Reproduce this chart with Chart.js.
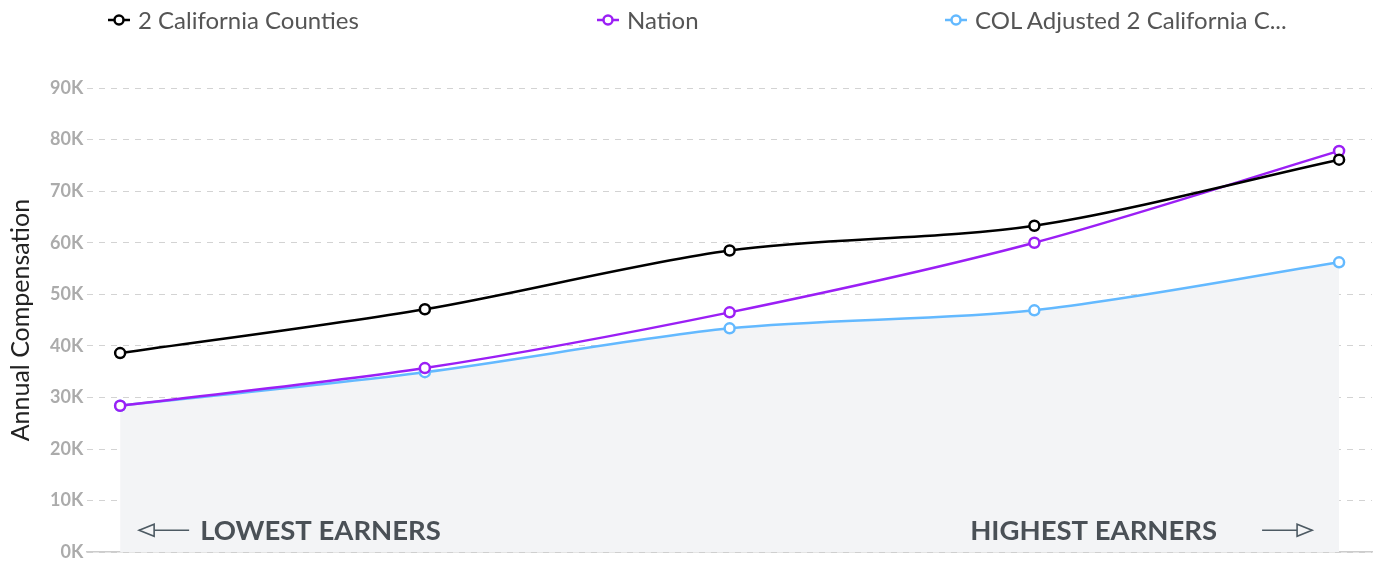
<!DOCTYPE html>
<html>
<head>
<meta charset="utf-8">
<script src="https://cdn.jsdelivr.net/npm/chart.js@4.4.1/dist/chart.umd.min.js"></script>
<style>
  html, body { margin: 0; padding: 0; background: #fff; }
  #wrap { position: relative; width: 1374px; height: 567px; }
  #legend { position: absolute; top: 0; left: 0; width: 1374px; height: 40px; font-family: Lato, sans-serif; font-size: 24px; color: #555; }
  .item { position: absolute; top: 6px; display: flex; align-items: center; white-space: nowrap; line-height: 28px; }
  .item svg { margin-right: 8px; }
  canvas { position: absolute; top: 0; left: 0; }
</style>
</head>
<body>
<div id="wrap">
  <canvas id="c" width="1374" height="567"></canvas>
  <div id="legend"></div>
</div>
<script>
const categories = ["P10", "P25", "P50", "P75", "P90"];
const seriesNames = ["2 California Counties", "Nation", "COL Adjusted 2 California C..."];
const californiaValues = [38600, 47100, 58500, 63300, 76100];
const nationValues = [28400, 35700, 46500, 60000, 77800];
const colAdjustedValues = [28400, 34900, 43400, 46900, 56200];
const yTicks = [0, 10000, 20000, 30000, 40000, 50000, 60000, 70000, 80000, 90000];
const bottomLabels = ["LOWEST EARNERS", "HIGHEST EARNERS"];
const colors = ["#000000", "#9b1ff5", "#63b9ff"];
const legendLeft = [108, 597, 945];

// HTML legend
const legend = document.getElementById('legend');
seriesNames.forEach((name, i) => {
  const d = document.createElement('div');
  d.className = 'item';
  d.style.left = legendLeft[i] + 'px';
  d.innerHTML = '<svg width="22" height="14"><line x1="0" y1="7" x2="22" y2="7" stroke="' + colors[i] + '" stroke-width="2.5"/><circle cx="11" cy="7" r="4.5" fill="#fff" stroke="' + colors[i] + '" stroke-width="2.5"/></svg><span></span>';
  d.querySelector('span').textContent = name;
  legend.appendChild(d);
});

const toXY = arr => arr.map((v, i) => ({ x: i, y: v }));

const earnersPlugin = {
  id: 'earners',
  afterDatasetsDraw(chart) {
    const { ctx, chartArea, scales } = chart;
    const x0 = scales.x.getPixelForValue(0);
    const x4 = scales.x.getPixelForValue(4);
    const y = chartArea.bottom - 22;
    ctx.save();
    ctx.strokeStyle = '#4d5a63';
    ctx.lineWidth = 1.6;
    // left arrow
    ctx.beginPath();
    ctx.moveTo(x0 + 19, y); ctx.lineTo(x0 + 69, y); ctx.stroke();
    ctx.beginPath();
    ctx.moveTo(x0 + 19, y); ctx.lineTo(x0 + 34, y - 6); ctx.lineTo(x0 + 34, y + 6); ctx.closePath();
    ctx.fillStyle = '#f3f4f6'; ctx.fill(); ctx.stroke();
    // right arrow
    ctx.beginPath();
    ctx.moveTo(x4 - 77, y); ctx.lineTo(x4 - 27, y); ctx.stroke();
    ctx.beginPath();
    ctx.moveTo(x4 - 27, y); ctx.lineTo(x4 - 42, y - 6); ctx.lineTo(x4 - 42, y + 6); ctx.closePath();
    ctx.fill(); ctx.stroke();
    ctx.fillStyle = '#4a5056';
    ctx.font = 'bold 27.5px Lato';
    ctx.textBaseline = 'middle';
    ctx.textAlign = 'left';
    ctx.fillText(bottomLabels[0], x0 + 80, y + 1);
    ctx.textAlign = 'right';
    ctx.fillText(bottomLabels[1], x4 - 122, y + 1);
    ctx.restore();
  }
};

const mk = (label, data, color, extra) => Object.assign({
  label, data,
  borderColor: color,
  borderWidth: 2.5,
  pointRadius: 5,
  pointBorderWidth: 2.5,
  pointBackgroundColor: '#ffffff',
  pointBorderColor: color,
  tension: 0.3,
  fill: false
}, extra || {});

new Chart(document.getElementById('c'), {
  type: 'line',
  data: {
    labels: categories,
    datasets: [
      mk(seriesNames[0], toXY(californiaValues), colors[0]),
      mk(seriesNames[1], toXY(nationValues), colors[1]),
      mk(seriesNames[2], toXY(colAdjustedValues), colors[2], { fill: 'origin', backgroundColor: '#f3f4f6' })
    ]
  },
  options: {
    responsive: false,
    animation: false,
    layout: { autoPadding: false, padding: { top: 88, right: 2, bottom: 13, left: 6 } },
    plugins: { legend: { display: false }, tooltip: { enabled: false } },
    scales: {
      x: {
        type: 'linear',
        min: -0.108,
        max: 4.108,
        afterFit: s => { s.height = 0; },
        grid: { display: false, drawTicks: false },
        border: { display: true, color: '#cccccc', width: 1.5 },
        ticks: { display: false }
      },
      y: {
        min: 0,
        max: 90000,
        afterBuildTicks: s => { s.ticks = yTicks.map(v => ({ value: v })); },
        ticks: {
          callback: v => (v / 1000) + 'K',
          color: '#ababab',
          font: { family: 'Lato', size: 18, weight: 'bold' },
          padding: 4
        },
        grid: { color: '#d3d3d3', lineWidth: 1, drawTicks: false },
        border: { display: false, dash: [6, 6] },
        title: {
          display: true,
          text: 'Annual Compensation',
          color: '#222222',
          font: { family: 'Lato', size: 25 },
          padding: { top: 0, bottom: 10 }
        }
      }
    }
  },
  plugins: [earnersPlugin]
});
</script>
</body>
</html>
